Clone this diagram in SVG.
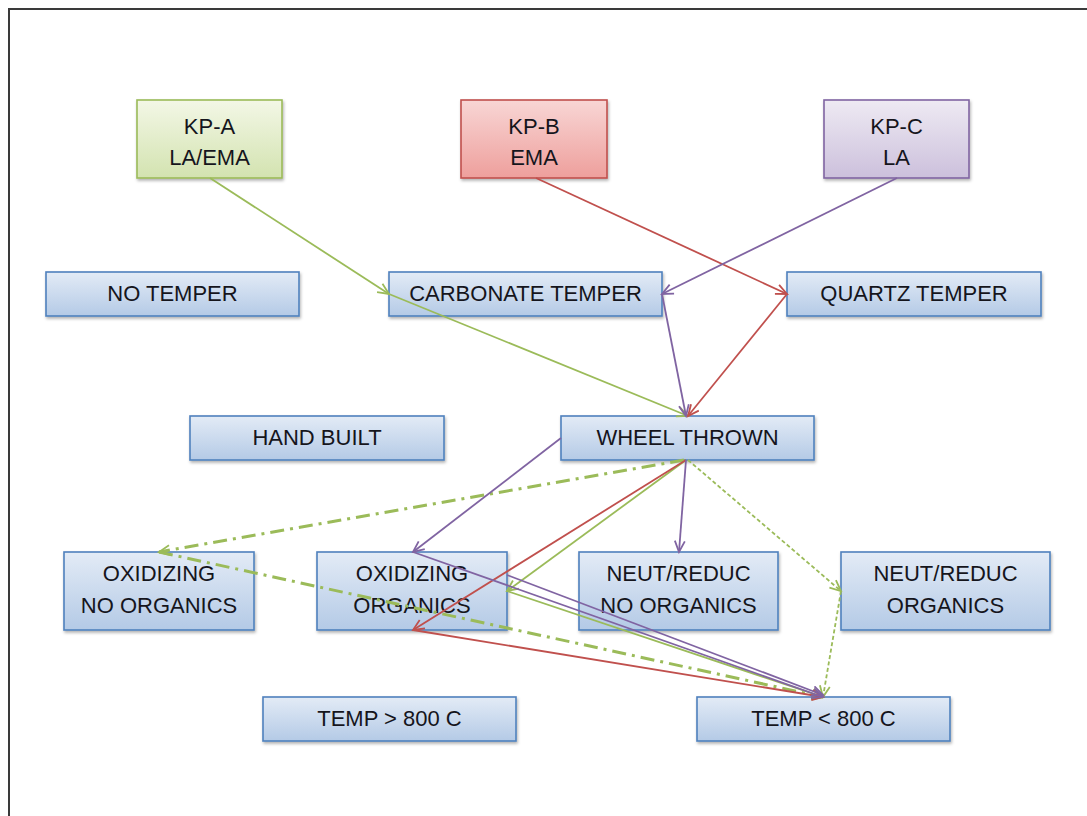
<svg xmlns="http://www.w3.org/2000/svg" width="1087" height="816" viewBox="0 0 1087 816">
  <style>
    .lbl { font-family: "Liberation Sans", Arial, sans-serif; font-size: 22px; fill: #15151c; text-anchor: middle; dominant-baseline: central; }
    .box { fill: url(#gBlue); stroke: #4F81BD; stroke-width: 1.6; filter: url(#shadow); }
    .boxA { fill: url(#gGreen); stroke: #9BBB59; stroke-width: 1.6; filter: url(#shadow); }
    .boxB { fill: url(#gRed); stroke: #C0504D; stroke-width: 1.6; filter: url(#shadow); }
    .boxC { fill: url(#gPurple); stroke: #8064A2; stroke-width: 1.6; filter: url(#shadow); }
    .c { fill: none; stroke-width: 1.8; }
    .green { stroke: #9BBB59; }
    .red { stroke: #C0504D; }
    .purple { stroke: #8064A2; }
    .dash { stroke-dasharray: 4 2.5; }
    .dashdot { stroke-width: 3; stroke-dasharray: 14 6 3 6; }
  </style>
  <defs>
    <linearGradient id="gBlue" x1="0" y1="0" x2="0" y2="1">
      <stop offset="0" stop-color="#E3EBF6"/>
      <stop offset="1" stop-color="#B4CAE6"/>
    </linearGradient>
    <linearGradient id="gGreen" x1="0" y1="0" x2="0" y2="1">
      <stop offset="0" stop-color="#F3F7E6"/>
      <stop offset="1" stop-color="#D3E3B0"/>
    </linearGradient>
    <linearGradient id="gRed" x1="0" y1="0" x2="0" y2="1">
      <stop offset="0" stop-color="#F8D6D5"/>
      <stop offset="1" stop-color="#EE9F9C"/>
    </linearGradient>
    <linearGradient id="gPurple" x1="0" y1="0" x2="0" y2="1">
      <stop offset="0" stop-color="#EEEAF3"/>
      <stop offset="1" stop-color="#CCC0DC"/>
    </linearGradient>
    <filter id="shadow" x="-10%" y="-10%" width="120%" height="130%">
      <feDropShadow dx="1" dy="2" stdDeviation="1.5" flood-color="#000" flood-opacity="0.3"/>
    </filter>
    <marker id="aG" markerWidth="14" markerHeight="14" refX="12" refY="6" orient="auto" markerUnits="userSpaceOnUse">
      <path d="M1,1 L12,6 L1,11" fill="none" stroke="#9BBB59" stroke-width="1.8"/>
    </marker>
    <marker id="aR" markerWidth="14" markerHeight="14" refX="12" refY="6" orient="auto" markerUnits="userSpaceOnUse">
      <path d="M1,1 L12,6 L1,11" fill="none" stroke="#C0504D" stroke-width="1.8"/>
    </marker>
    <marker id="aP" markerWidth="14" markerHeight="14" refX="12" refY="6" orient="auto" markerUnits="userSpaceOnUse">
      <path d="M1,1 L12,6 L1,11" fill="none" stroke="#8064A2" stroke-width="1.8"/>
    </marker>
  </defs>

  <rect width="1087" height="816" fill="#ffffff"/>
  <!-- outer frame -->
  <path d="M9,816 L9,9 L1087,9" fill="none" stroke="#3a3a3a" stroke-width="2"/>

  <!-- nodes -->
  <g id="kp-a">
    <rect class="boxA" x="137" y="100" width="145" height="78"/>
    <text class="lbl" x="209.5" y="126">KP-A</text>
    <text class="lbl" x="209.5" y="157">LA/EMA</text>
  </g>
  <g id="kp-b">
    <rect class="boxB" x="461" y="100" width="146" height="78"/>
    <text class="lbl" x="534" y="126">KP-B</text>
    <text class="lbl" x="534" y="157">EMA</text>
  </g>
  <g id="kp-c">
    <rect class="boxC" x="824" y="100" width="145" height="78"/>
    <text class="lbl" x="896.5" y="126">KP-C</text>
    <text class="lbl" x="896.5" y="157">LA</text>
  </g>

  <g id="no-temper">
    <rect class="box" x="46" y="272" width="253" height="44"/>
    <text class="lbl" x="172.5" y="293">NO TEMPER</text>
  </g>
  <g id="carbonate-temper">
    <rect class="box" x="389" y="272" width="273" height="44"/>
    <text class="lbl" x="525.5" y="293">CARBONATE TEMPER</text>
  </g>
  <g id="quartz-temper">
    <rect class="box" x="787" y="272" width="254" height="44"/>
    <text class="lbl" x="914" y="293">QUARTZ TEMPER</text>
  </g>

  <g id="hand-built">
    <rect class="box" x="190" y="416" width="254" height="44"/>
    <text class="lbl" x="317" y="437">HAND BUILT</text>
  </g>
  <g id="wheel-thrown">
    <rect class="box" x="561" y="416" width="253" height="44"/>
    <text class="lbl" x="687.5" y="437">WHEEL THROWN</text>
  </g>

  <g id="ox-no-org">
    <rect class="box" x="64" y="552" width="190" height="78"/>
    <text class="lbl" x="159" y="573">OXIDIZING</text>
    <text class="lbl" x="159" y="605">NO ORGANICS</text>
  </g>
  <g id="ox-org">
    <rect class="box" x="317" y="552" width="190" height="78"/>
    <text class="lbl" x="412" y="573">OXIDIZING</text>
    <text class="lbl" x="412" y="605">ORGANICS</text>
  </g>
  <g id="nr-no-org">
    <rect class="box" x="579" y="552" width="199" height="78"/>
    <text class="lbl" x="678.5" y="573">NEUT/REDUC</text>
    <text class="lbl" x="678.5" y="605">NO ORGANICS</text>
  </g>
  <g id="nr-org">
    <rect class="box" x="841" y="552" width="209" height="78"/>
    <text class="lbl" x="945.5" y="573">NEUT/REDUC</text>
    <text class="lbl" x="945.5" y="605">ORGANICS</text>
  </g>

  <g id="temp-high">
    <rect class="box" x="263" y="697" width="253" height="44"/>
    <text class="lbl" x="389.5" y="718">TEMP &gt; 800 C</text>
  </g>
  <g id="temp-low">
    <rect class="box" x="697" y="697" width="253" height="44"/>
    <text class="lbl" x="823.5" y="718">TEMP &lt; 800 C</text>
  </g>

  <!-- connectors, drawn over the boxes -->
  <g id="connectors">
    <!-- green -->
    <line class="c green" x1="210" y1="178" x2="389" y2="294" marker-end="url(#aG)"/>
    <line class="c green" x1="389" y1="294" x2="688" y2="416" marker-end="url(#aG)"/>
    <line class="c green" x1="686" y1="460" x2="507" y2="591" marker-end="url(#aG)"/>
    <line class="c green" x1="507" y1="591" x2="823" y2="697" marker-end="url(#aG)"/>
    <line class="c green dash" x1="688" y1="460" x2="841" y2="591" marker-end="url(#aG)"/>
    <line class="c green dash" x1="841" y1="591" x2="823" y2="697" marker-end="url(#aG)"/>
    <line class="c green dashdot" x1="684" y1="460" x2="159" y2="552" marker-end="url(#aG)"/>
    <line class="c green dashdot" x1="159" y1="552" x2="823" y2="697" marker-end="url(#aG)"/>
    <!-- red -->
    <line class="c red" x1="536" y1="178" x2="787" y2="294" marker-end="url(#aR)"/>
    <line class="c red" x1="787" y1="294" x2="688" y2="416" marker-end="url(#aR)"/>
    <line class="c red" x1="686" y1="460" x2="413" y2="630" marker-end="url(#aR)"/>
    <line class="c red" x1="413" y1="630" x2="823" y2="697" marker-end="url(#aR)"/>
    <!-- purple -->
    <line class="c purple" x1="897" y1="178" x2="662" y2="294" marker-end="url(#aP)"/>
    <line class="c purple" x1="662" y1="294" x2="686" y2="416" marker-end="url(#aP)"/>
    <line class="c purple" x1="561" y1="438" x2="413" y2="552" marker-end="url(#aP)"/>
    <line class="c purple" x1="413" y1="552" x2="823" y2="697" marker-end="url(#aP)"/>
    <line class="c purple" x1="686" y1="460" x2="679" y2="552" marker-end="url(#aP)"/>
    <line class="c purple" x1="507" y1="575" x2="823" y2="695" marker-end="url(#aP)"/>
  </g>
</svg>
